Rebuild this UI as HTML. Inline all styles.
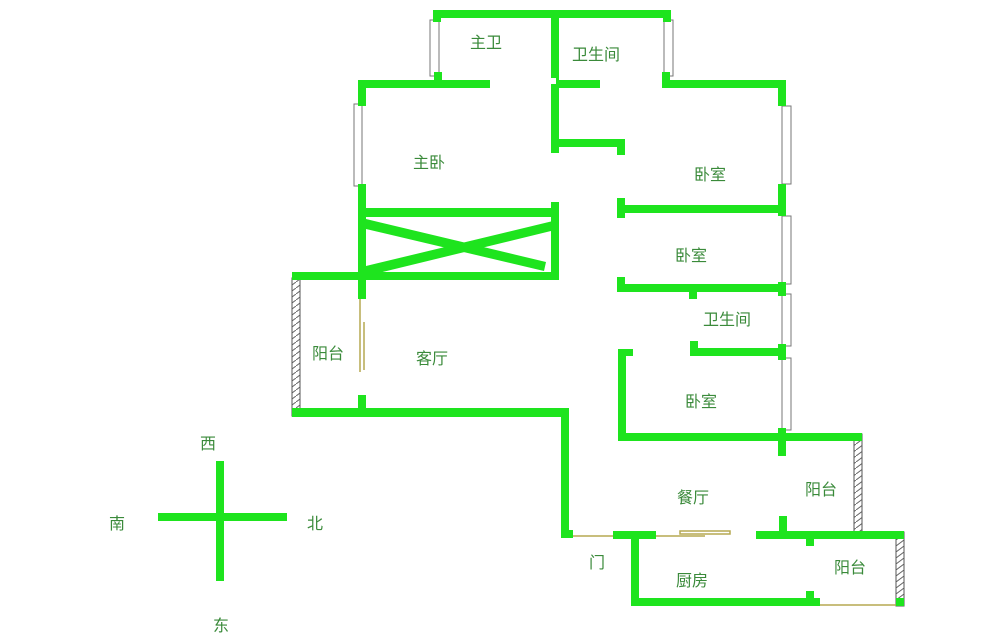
<!DOCTYPE html>
<html><head><meta charset="utf-8"><style>
html,body{margin:0;padding:0;background:#fff;}
svg{display:block}
text{font-family:"Liberation Sans","Noto Sans CJK SC",sans-serif;font-size:16px;fill:#3a8a3a;}
</style></head><body>
<svg width="1000" height="641" viewBox="0 0 1000 641" xmlns="http://www.w3.org/2000/svg">
<rect width="1000" height="641" fill="#fff"/>
<defs>
<pattern id="h" width="8" height="6" patternUnits="userSpaceOnUse">
<rect width="8" height="6" fill="#fff"/>
<line x1="0" y1="6" x2="8" y2="0" stroke="#666" stroke-width="1"/>
</pattern>
</defs>
<rect x="292" y="278" width="8" height="138" fill="url(#h)" stroke="#555" stroke-width="1"/>
<rect x="854" y="434" width="8" height="98" fill="url(#h)" stroke="#555" stroke-width="1"/>
<rect x="896" y="532" width="8" height="74" fill="url(#h)" stroke="#555" stroke-width="1"/>
<g fill="#fff" stroke="#777" stroke-width="1">
<rect x="430" y="20" width="9" height="56"/>
<rect x="664" y="20" width="9" height="56"/>
<rect x="354" y="104" width="8" height="82"/>
<rect x="782" y="106" width="9" height="78"/>
<rect x="782" y="216" width="9" height="68"/>
<rect x="782" y="294" width="9" height="52"/>
<rect x="782" y="358" width="9" height="72"/>
</g>
<g stroke="#b5a850" stroke-width="1.5" fill="none">
<line x1="360" y1="298" x2="360" y2="372"/>
<line x1="364" y1="322" x2="364" y2="370"/>
<line x1="569" y1="536" x2="613" y2="536"/>
<line x1="656" y1="536" x2="705" y2="536"/>
<rect x="680" y="531" width="50" height="3"/>
<line x1="820" y1="605" x2="896" y2="605"/>
</g>
<g fill="#1ee41e" stroke="none">
<rect x="433" y="10" width="238" height="8"/>
<rect x="433" y="10" width="8" height="12"/>
<rect x="663" y="10" width="8" height="12"/>
<rect x="551" y="10" width="8" height="143"/>
<rect x="358" y="80" width="132" height="8"/>
<rect x="434" y="72" width="8" height="10"/>
<rect x="559" y="80" width="41" height="8"/>
<rect x="662" y="80" width="124" height="8"/>
<rect x="662" y="72" width="8" height="10"/>
<rect x="559" y="139" width="66" height="8"/>
<rect x="617" y="139" width="8" height="16"/>
<rect x="358" y="80" width="8" height="26"/>
<rect x="358" y="184" width="8" height="115"/>
<rect x="778" y="80" width="8" height="26"/>
<rect x="778" y="184" width="8" height="32"/>
<rect x="778" y="282" width="8" height="14"/>
<rect x="778" y="344" width="8" height="16"/>
<rect x="778" y="428" width="8" height="28"/>
<rect x="362" y="208" width="196" height="9"/>
<rect x="551" y="202" width="8" height="78"/>
<rect x="292" y="272" width="267" height="8"/>
<polygon points="366,219 546,262 544,271 366,229"/>
<polygon points="366,266 553,221 555,230 366,276"/>
<rect x="620" y="205" width="162" height="8"/>
<rect x="617" y="198" width="8" height="20"/>
<rect x="620" y="284" width="162" height="8"/>
<rect x="617" y="277" width="8" height="15"/>
<rect x="689" y="290" width="8" height="9"/>
<rect x="690" y="348" width="92" height="8"/>
<rect x="690" y="341" width="8" height="10"/>
<rect x="618" y="349" width="8" height="92"/>
<rect x="618" y="349" width="15" height="7"/>
<rect x="618" y="433" width="244" height="8"/>
<rect x="292" y="408" width="277" height="9"/>
<rect x="358" y="395" width="8" height="15"/>
<rect x="561" y="408" width="8" height="130"/>
<rect x="561" y="530" width="12" height="8"/>
<rect x="613" y="531" width="43" height="8"/>
<rect x="631" y="531" width="8" height="75"/>
<rect x="631" y="598" width="189" height="8"/>
<rect x="806" y="591" width="8" height="9"/>
<rect x="756" y="531" width="148" height="8"/>
<rect x="779" y="516" width="8" height="17"/>
<rect x="806" y="537" width="8" height="9"/>
<rect x="896" y="598" width="8" height="8"/>
<rect x="216" y="461" width="8" height="120"/>
<rect x="158" y="513" width="129" height="8"/>
</g>
<rect x="550" y="78" width="6" height="6" fill="#fff"/>
<text x="470" y="48">主卫</text>
<text x="572" y="60">卫生间</text>
<text x="413" y="168">主卧</text>
<text x="694" y="180">卧室</text>
<text x="675" y="261">卧室</text>
<text x="703" y="325">卫生间</text>
<text x="312" y="359">阳台</text>
<text x="416" y="364">客厅</text>
<text x="685" y="407">卧室</text>
<text x="677" y="503">餐厅</text>
<text x="805" y="495">阳台</text>
<text x="589" y="568">门</text>
<text x="676" y="586">厨房</text>
<text x="834" y="573">阳台</text>
<text x="200" y="449">西</text>
<text x="109" y="529">南</text>
<text x="307" y="529">北</text>
<text x="213" y="631">东</text>
</svg>
</body></html>
